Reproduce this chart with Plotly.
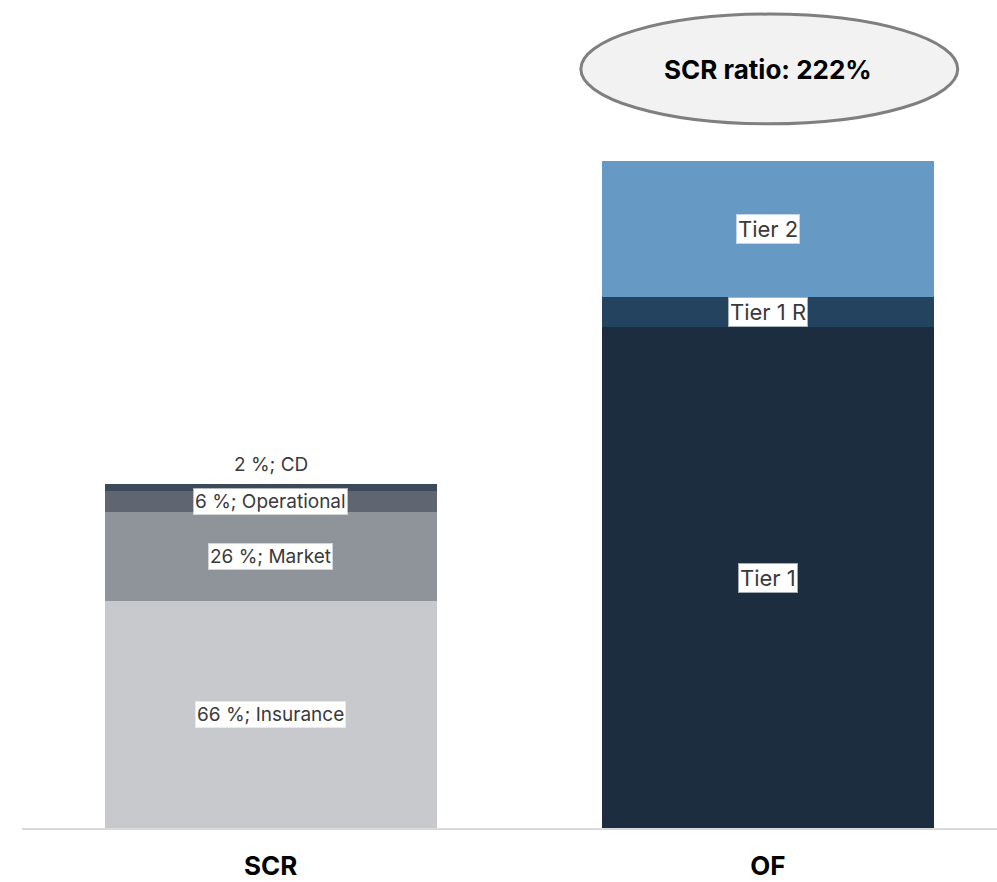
import plotly.graph_objects as go

# Data
categories = ["SCR", "OF"]
scr_labels = ["66 %; Insurance", "26 %; Market", "6 %; Operational", "2 %; CD"]
scr_values = [66, 26, 6, 2]
scr_colors = ["#c8c9cd", "#8f949b", "#5f6672", "#3d4a5a"]
of_labels = ["Tier 1", "Tier 1 R", "Tier 2"]
of_values = [145.6, 8.7, 39.5]
of_colors = ["#1b2d3f", "#24435e", "#6699c3"]
ratio_text = "SCR ratio: 222%"

fig = go.Figure()
FONT = "Inter, Noto Sans, sans-serif"

def add_stack(xpos, labels, values, colors, size, top_outside_last=False):
    base = 0
    lf = dict(family=FONT, size=size, color="#3a3a3a")
    for i, (lab, v, c) in enumerate(zip(labels, values, colors)):
        fig.add_trace(go.Bar(x=[xpos], y=[v], marker=dict(color=c, line=dict(width=0)),
                             width=0.668, name=lab, showlegend=False, hoverinfo="skip"))
        if top_outside_last and i == len(labels) - 1:
            fig.add_annotation(x=xpos, y=base + v, text=lab, showarrow=False,
                               yanchor="bottom", yshift=6, font=lf)
        else:
            fig.add_annotation(x=xpos, y=base + v / 2, text=lab, showarrow=False,
                               font=lf, bgcolor="white", bordercolor="rgba(255,255,255,0.6)",
                               borderwidth=2, borderpad=0)
        base += v

add_stack(0, scr_labels, scr_values, scr_colors, 19, top_outside_last=True)
add_stack(1, of_labels, of_values, of_colors, 22)

# Ratio ellipse
fig.add_shape(type="circle", xref="x", yref="y", x0=0.624, x1=1.382, y0=204.7, y1=236.6,
              fillcolor="#f2f2f2", line=dict(color="#7f7f7f", width=3))
fig.add_annotation(x=1.0, y=220.6, text="<b>" + ratio_text + "</b>", showarrow=False,
                   font=dict(family=FONT, size=26, color="#000000"))

fig.update_layout(
    width=997, height=882,
    margin=dict(l=22, r=0, t=0, b=54),
    barmode="stack", bargap=0,
    plot_bgcolor="white", paper_bgcolor="white",
    xaxis=dict(range=[-0.5, 1.461], tickvals=[0, 1], ticktext=["<b>" + c + "</b>" for c in categories],
               tickfont=dict(family=FONT, size=26, color="#000000"),
               showline=True, linecolor="#d9d9d9", linewidth=2, showgrid=False, zeroline=False,
               ticks="", ticklabelstandoff=14, automargin=False),
    yaxis=dict(range=[0, 240.7], visible=False, showgrid=False, zeroline=False),
)

fig.write_html("out.html")
